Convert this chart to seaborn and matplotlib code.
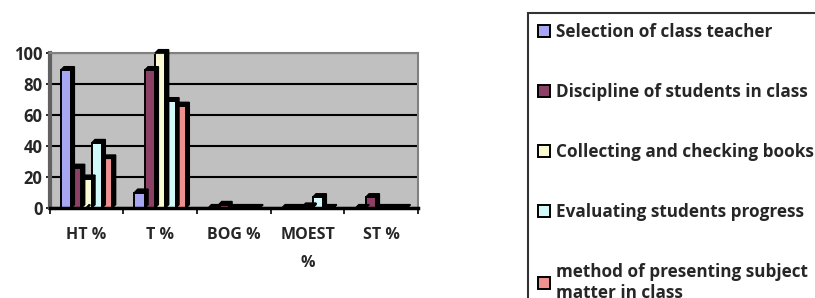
import matplotlib
matplotlib.use("Agg")
import matplotlib.pyplot as plt
from matplotlib.patches import Polygon
import pandas as pd
import seaborn as sns

# chart data
categories = ["HT %", "T %", "BOG %", "MOEST\n%", "ST %"]
selection = [89, 10, 0, 0, 0]
discipline = [26, 89, 2, 0, 7]
collecting = [19, 100, 0, 1, 0]
evaluating = [42, 69, 0, 7, 0]
method = [32, 66, 0, 0, 0]

series_names = [
    "Selection of class teacher",
    "Discipline of students in class",
    "Collecting and checking books",
    "Evaluating students progress",
    "method of presenting subject\nmatter in class",
]
colors = ["#9999FF", "#993366", "#FFFFCC", "#CCFFFF", "#FF8080"]

rows = []
for name, vals in zip(series_names, [selection, discipline, collecting, evaluating, method]):
    for cat, v in zip(categories, vals):
        rows.append({"Category": cat, "Series": name, "Value": v})
df = pd.DataFrame(rows)

sns.set_theme(style="white")
plt.rcParams["font.family"] = ["Open Sans", "DejaVu Sans"]
plt.rcParams["font.weight"] = "bold"

fig = plt.figure(figsize=(8.15, 2.98), dpi=100)
ax = fig.add_axes([0.061, 0.302, 0.452, 0.52])
ax.set_facecolor("#C0C0C0")

sns.barplot(data=df, x="Category", y="Value", hue="Series", palette=colors,
            width=0.7, edgecolor="black", linewidth=1.4, ax=ax, legend=True)

# fake 3d depth on each bar
dx, dy = 0.045, 2.2
for p in list(ax.patches):
    x, w, h = p.get_x(), p.get_width(), p.get_height()
    top = Polygon([(x, h), (x + dx, h + dy), (x + w + dx, h + dy), (x + w, h)],
                  closed=True, facecolor="black", edgecolor="black", lw=1, clip_on=False, zorder=3)
    side = Polygon([(x + w, 0), (x + w + dx, dy), (x + w + dx, h + dy), (x + w, h)],
                   closed=True, facecolor="black", edgecolor="black", lw=1, clip_on=False, zorder=3)
    ax.add_patch(top)
    ax.add_patch(side)

handles, labels = ax.get_legend_handles_labels()
ax.get_legend().remove()

ax.set_ylim(0, 100)
ax.set_xlim(-0.5, len(categories) - 0.5)
ax.set_yticks([0, 20, 40, 60, 80, 100])
ax.yaxis.grid(True, color="black", linewidth=1.5)
ax.set_axisbelow(True)
ax.set_xlabel("")
ax.set_ylabel("")

ax.tick_params(axis="y", labelsize=12, length=3, width=1.2, color="black", pad=2, left=True)
ax.tick_params(axis="x", labelsize=11.5, length=0, pad=14)
ax.set_xticks(range(len(categories)))
ax.set_xticklabels(categories, fontweight="bold", linespacing=2.0, va="top")
for t in ax.get_yticklabels():
    t.set_fontweight("bold")
ax.set_xticks([i - 0.5 for i in range(len(categories) + 1)], minor=True)
ax.tick_params(axis="x", which="minor", length=4, width=1.2, color="black", bottom=True)

for side_name in ["top", "right"]:
    ax.spines[side_name].set_color("#808080")
    ax.spines[side_name].set_linewidth(1.5)
ax.spines["left"].set_color("#606060")
ax.spines["left"].set_linewidth(3)
ax.spines["bottom"].set_color("black")
ax.spines["bottom"].set_linewidth(2.5)

for hnd in handles:
    hnd.set_edgecolor("black")
    hnd.set_linewidth(1.4)

leg = fig.legend(handles, labels, loc="upper left", bbox_to_anchor=(0.648, 0.956),
                 frameon=True, fancybox=False, fontsize=12.3, labelspacing=2.45,
                 handlelength=0.7, handleheight=0.7, handletextpad=0.35,
                 borderpad=0.6, borderaxespad=0)
leg.get_frame().set_edgecolor("black")
leg.get_frame().set_linewidth(1.5)
for t in leg.get_texts():
    t.set_fontweight("bold")

fig.savefig("out.png", dpi=100)
